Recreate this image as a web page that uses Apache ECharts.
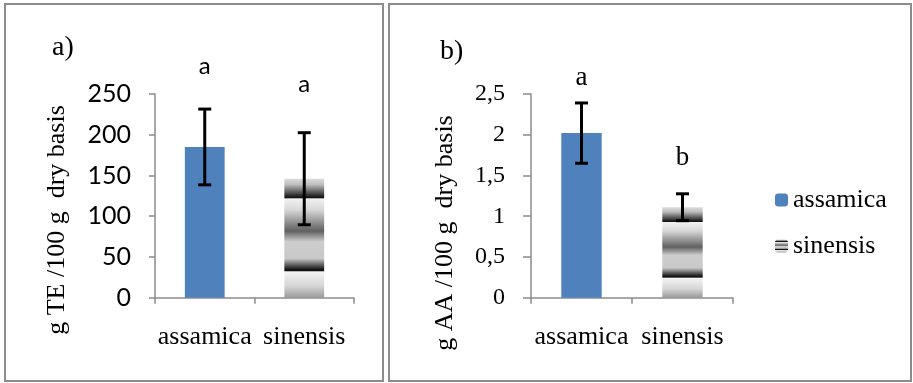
<!DOCTYPE html>
<html>
<head>
<meta charset="utf-8">
<script src="https://cdn.jsdelivr.net/npm/echarts@6/dist/echarts.min.js"></script>
<style>html,body{margin:0;padding:0;background:#fff}#c{width:913px;height:383px}</style>
</head>
<body>
<div id="c"></div>
<script>
// ---- data ----
const categories = ['assamica', 'sinensis'];
// a) total phenolics, g TE /100 g dry basis
const teMean = [185, 146];
const teSD = [46.5, 56.5];
const teLetters = ['a', 'a'];
const teLetterPos = [284, 262];
// b) ascorbic acid, g AA /100 g dry basis
const aaMean = [2.02, 1.11];
const aaSD = [0.37, 0.165];
const aaLetters = ['a', 'b'];
const aaLetterPos = [2.70, 1.715];
const teTicks = [0, 50, 100, 150, 200, 250];
const aaTicks = ['0', '0,5', '1', '1,5', '2', '2,5'];

const SERIF = '"Liberation Serif","Times New Roman",serif';
const SANS = 'Lato,"Liberation Sans",sans-serif';
const BLUE = '#4f81bd';
const AXIS = '#8c8c8c';

const band = {
  type: 'linear', x: 0, y: 0, x2: 0, y2: 1,
  colorStops: [
    {offset: 0, color: '#dcdcdc'},
    {offset: 0.05, color: '#bdbdbd'},
    {offset: 0.15, color: '#1e1e1e'},
    {offset: 0.162, color: '#111'},
    {offset: 0.168, color: '#f2f2f2'},
    {offset: 0.26, color: '#d8d8d8'},
    {offset: 0.44, color: '#606060'},
    {offset: 0.53, color: '#cdcdcd'},
    {offset: 0.67, color: '#c8c8c8'},
    {offset: 0.762, color: '#151515'},
    {offset: 0.774, color: '#111'},
    {offset: 0.782, color: '#f4f4f4'},
    {offset: 0.9, color: '#d6d6d6'},
    {offset: 1, color: '#9a9a9a'}
  ]
};

function errData(mean, sd) {
  return mean.map((m, i) => [i, m - sd[i], m + sd[i]]);
}
function renderErr(params, api) {
  const x = api.value(0);
  const lo = api.coord([x, api.value(1)]);
  const hi = api.coord([x, api.value(2)]);
  const hw = 6.5;
  const st = {stroke: '#000', lineWidth: 3};
  return {type: 'group', children: [
    {type: 'line', shape: {x1: hi[0], y1: hi[1], x2: lo[0], y2: lo[1]}, style: st},
    {type: 'line', shape: {x1: hi[0] - hw, y1: hi[1], x2: hi[0] + hw, y2: hi[1]}, style: st},
    {type: 'line', shape: {x1: lo[0] - hw, y1: lo[1], x2: lo[0] + hw, y2: lo[1]}, style: st}
  ]};
}
function letterRenderer(letters, font) {
  return function (params, api) {
    const p = api.coord([api.value(0), api.value(1)]);
    return {type: 'text', x: p[0], y: p[1], style: {text: letters[params.dataIndex], font: font, fill: '#000', textAlign: 'center', textVerticalAlign: 'middle'}};
  };
}

function xAx(gi) {
  return {
    type: 'category', gridIndex: gi, data: categories,
    axisLine: {lineStyle: {color: AXIS, width: 1.5}},
    axisTick: {show: true, length: 6, lineStyle: {color: AXIS, width: 1.5}},
    axisLabel: {interval: 0, margin: 26, color: '#000', fontFamily: SERIF, fontSize: 26},
    splitLine: {show: false}
  };
}

const chart = echarts.init(document.getElementById('c'), null, {renderer: 'canvas'});
chart.setOption({
  animation: false,
  backgroundColor: '#fff',
  grid: [
    {left: 155, top: 94, width: 199, height: 203.7},
    {left: 531, top: 94, width: 202, height: 203.7}
  ],
  xAxis: [xAx(0), xAx(1)],
  yAxis: [
    {type: 'value', gridIndex: 0, min: 0, max: 250, interval: 50,
      axisLine: {show: true, lineStyle: {color: AXIS, width: 1.5}},
      axisTick: {show: true, length: 6, lineStyle: {color: AXIS, width: 1.5}},
      axisLabel: {margin: 24, color: '#000', fontFamily: SANS, fontSize: 25,
        formatter: (v) => { const i = Math.round(v / 50); return String(teTicks[i]); }},
      splitLine: {show: false}},
    {type: 'value', gridIndex: 1, min: 0, max: 2.5, interval: 0.5,
      axisLine: {show: true, lineStyle: {color: AXIS, width: 1.5}},
      axisTick: {show: true, length: 8, lineStyle: {color: AXIS, width: 1.5}},
      axisLabel: {margin: 26, color: '#000', fontFamily: SERIF, fontSize: 24,
        formatter: (v) => aaTicks[Math.round(v / 0.5)]},
      splitLine: {show: false}},
  ],
  legend: {
    orient: 'vertical', left: 775, top: 187, padding: 0, itemWidth: 13, itemHeight: 13, itemGap: 20,
    data: ['assamica', 'sinensis'],
    textStyle: {fontFamily: SERIF, fontSize: 26, color: '#000'},
    selectedMode: false
  },
  series: [
    {name: 'assamica', type: 'bar', xAxisIndex: 0, yAxisIndex: 0, barWidth: '40%', barGap: '-100%',
      data: [teMean[0], '-'], itemStyle: {color: BLUE}},
    {name: 'sinensis', type: 'bar', xAxisIndex: 0, yAxisIndex: 0, barWidth: '40%', barGap: '-100%',
      data: ['-', teMean[1]], itemStyle: {color: band}},
    {name: 'assamica', type: 'bar', xAxisIndex: 1, yAxisIndex: 1, barWidth: '40%', barGap: '-100%',
      data: [aaMean[0], '-'], itemStyle: {color: BLUE}},
    {name: 'sinensis', type: 'bar', xAxisIndex: 1, yAxisIndex: 1, barWidth: '40%', barGap: '-100%',
      data: ['-', aaMean[1]], itemStyle: {color: band}},
    {type: 'custom', xAxisIndex: 0, yAxisIndex: 0, renderItem: renderErr, data: errData(teMean, teSD), z: 10, silent: true},
    {type: 'custom', xAxisIndex: 1, yAxisIndex: 1, renderItem: renderErr, data: errData(aaMean, aaSD), z: 10, silent: true},
    {type: 'custom', xAxisIndex: 0, yAxisIndex: 0, clip: false, renderItem: letterRenderer(teLetters, '24px ' + SANS),
      data: teLetterPos.map((v, i) => [i, v]), z: 10, silent: true},
    {type: 'custom', xAxisIndex: 1, yAxisIndex: 1, clip: false, renderItem: letterRenderer(aaLetters, '27px ' + SERIF),
      data: aaLetterPos.map((v, i) => [i, v]), z: 10, silent: true}
  ],
  graphic: [
    {type: 'rect', shape: {x: 5, y: 4, width: 378, height: 377}, style: {fill: 'none', stroke: AXIS, lineWidth: 2}, silent: true},
    {type: 'rect', shape: {x: 389, y: 4, width: 522, height: 377}, style: {fill: 'none', stroke: AXIS, lineWidth: 2}, silent: true},
    {type: 'text', x: 52, y: 48, style: {text: 'a)', font: '28px ' + SERIF, fill: '#000', textVerticalAlign: 'middle'}},
    {type: 'text', x: 440, y: 52, style: {text: 'b)', font: '28px ' + SERIF, fill: '#000', textVerticalAlign: 'middle'}},
    {type: 'text', x: 57, y: 220, rotation: Math.PI / 2, style: {text: 'g TE /100 g  dry basis', font: '26px ' + SERIF, fill: '#000', textAlign: 'center', textVerticalAlign: 'middle'}},
    {type: 'text', x: 445, y: 233, rotation: Math.PI / 2, style: {text: 'g AA /100 g  dry basis', font: '26px ' + SERIF, fill: '#000', textAlign: 'center', textVerticalAlign: 'middle'}}
  ]
});
</script>
</body>
</html>
